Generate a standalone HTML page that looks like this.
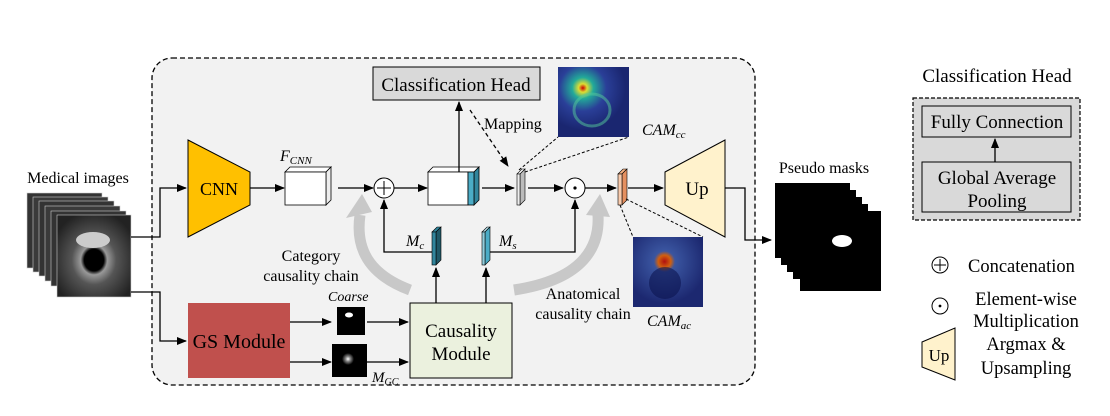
<!DOCTYPE html>
<html><head><meta charset="utf-8"><style>
html,body{margin:0;padding:0;background:#fff;}
svg{display:block;}
text{font-family:"Liberation Serif",serif;fill:#000;}
</style></head><body>
<svg width="1110" height="416" viewBox="0 0 1110 416" xmlns="http://www.w3.org/2000/svg">
<defs>
<marker id="ah" markerWidth="10" markerHeight="8" refX="9" refY="4" orient="auto" markerUnits="userSpaceOnUse"><path d="M0,0 L10,4 L0,8 z" fill="#000"/></marker>
<radialGradient id="hm1" cx="0.35" cy="0.3" r="0.6"><stop offset="0" stop-color="#c00"/><stop offset="0.1" stop-color="#dd3"/><stop offset="0.25" stop-color="#2a9"/><stop offset="0.55" stop-color="#2a3f98"/><stop offset="1" stop-color="#1a2670"/></radialGradient>
<radialGradient id="hm2" cx="0.45" cy="0.35" r="0.6"><stop offset="0" stop-color="#b01010"/><stop offset="0.15" stop-color="#d06010"/><stop offset="0.25" stop-color="#3a55a0"/><stop offset="1" stop-color="#1c2870"/></radialGradient>
<radialGradient id="mri" cx="0.5" cy="0.55" r="0.6"><stop offset="0" stop-color="#000"/><stop offset="0.22" stop-color="#000"/><stop offset="0.3" stop-color="#999"/><stop offset="0.5" stop-color="#555"/><stop offset="1" stop-color="#222"/></radialGradient>
<radialGradient id="glow" cx="0.5" cy="0.5" r="0.5"><stop offset="0" stop-color="#fff"/><stop offset="0.4" stop-color="#888"/><stop offset="1" stop-color="#000"/></radialGradient>
</defs>

<rect x="152" y="58" width="603" height="327" rx="20" fill="#f2f2f2" stroke="#000" stroke-width="1.3" stroke-dasharray="5,3"/>

<!-- medical images -->
<text x="78" y="183" font-size="16" text-anchor="middle">Medical images</text>
<g stroke="#ccc" stroke-width="0.6">
<rect x="27" y="193" width="75" height="75" fill="#333"/>
<rect x="33" y="197" width="75" height="75" fill="#3a3a3a"/>
<rect x="39" y="201" width="75" height="75" fill="#333"/>
<rect x="45" y="206" width="75" height="75" fill="#3a3a3a"/>
<rect x="51" y="211" width="75" height="75" fill="#333"/>
<rect x="57" y="215" width="74" height="82" fill="url(#mri)"/>
</g>
<ellipse cx="93" cy="240" rx="17" ry="8" fill="#ccc"/>
<polyline points="131,237 160,237 160,188 186,188" fill="none" stroke="#000" stroke-width="1.3" marker-end="url(#ah)"/>
<polyline points="131,292 160,292 160,341 186,341" fill="none" stroke="#000" stroke-width="1.3" marker-end="url(#ah)"/>

<polygon points="188,140 250,172 250,205 188,237" fill="#ffc000" stroke="#000" stroke-width="1"/>
<text x="219" y="195" font-size="18" text-anchor="middle">CNN</text>
<line x1="250" y1="188" x2="284" y2="188" stroke="#000" stroke-width="1.3" marker-end="url(#ah)"/>

<polygon points="285,172 290,167 331,167 326,172" fill="#fff" stroke="#000" stroke-width="0.8"/>
<polygon points="326,172 331,167 331,200 326,205" fill="#eee" stroke="#000" stroke-width="0.8"/>
<rect x="285" y="172" width="41" height="33" fill="#fff" stroke="#000" stroke-width="0.8"/>
<text x="280" y="161" font-size="16" font-style="italic">F<tspan font-size="11" dy="3">CNN</tspan></text>
<line x1="338" y1="188" x2="373" y2="188" stroke="#000" stroke-width="1.3" marker-end="url(#ah)"/>

<circle cx="384" cy="188" r="10" fill="#fff" stroke="#000" stroke-width="1"/>
<line x1="377" y1="188" x2="391" y2="188" stroke="#000"/><line x1="384" y1="181" x2="384" y2="195" stroke="#000"/>
<line x1="394" y1="188" x2="427" y2="188" stroke="#000" stroke-width="1.3" marker-end="url(#ah)"/>

<polygon points="428,172 433,167 479,167 474,172" fill="#fff" stroke="#000" stroke-width="0.8"/>
<polygon points="474,172 479,167 479,200 474,205" fill="#31859c" stroke="#000" stroke-width="0.8"/>
<rect x="428" y="172" width="40" height="33" fill="#fff" stroke="#000" stroke-width="0.8"/>
<rect x="468" y="172" width="6" height="33" fill="#4bacc6" stroke="#000" stroke-width="0.8"/>
<line x1="459" y1="172" x2="459" y2="102" stroke="#000" stroke-width="1.3" marker-end="url(#ah)"/>

<rect x="373" y="67" width="167" height="33" fill="#d9d9d9" stroke="#000" stroke-width="1"/>
<text x="456" y="91" font-size="19" text-anchor="middle">Classification Head</text>
<line x1="470" y1="110" x2="508" y2="166" stroke="#000" stroke-width="1.3" stroke-dasharray="4,3" marker-end="url(#ah)"/>
<text x="484" y="129" font-size="16">Mapping</text>

<line x1="482" y1="188" x2="514" y2="188" stroke="#000" stroke-width="1.3" marker-end="url(#ah)"/>
<polygon points="517,174 522,169 525,169 520,174" fill="#fff" stroke="#000" stroke-width="0.6"/>
<polygon points="520,174 525,169 525,200 520,205" fill="#bbb" stroke="#000" stroke-width="0.6"/>
<rect x="517" y="174" width="3" height="31" fill="#eee" stroke="#000" stroke-width="0.6"/>
<line x1="519" y1="170" x2="558" y2="137" stroke="#000" stroke-dasharray="3,2"/>
<line x1="525" y1="172" x2="629" y2="137" stroke="#000" stroke-dasharray="3,2"/>
<rect x="558" y="67" width="71" height="70" fill="url(#hm1)"/>
<ellipse cx="592" cy="110" rx="18" ry="16" fill="none" stroke="#5c9" stroke-width="3" opacity="0.5"/>
<text x="642" y="135" font-size="16" font-style="italic">CAM<tspan font-size="11" dy="3">cc</tspan></text>

<line x1="528" y1="188" x2="563" y2="188" stroke="#000" stroke-width="1.3" marker-end="url(#ah)"/>
<circle cx="575" cy="188" r="10" fill="#fff" stroke="#000" stroke-width="1"/>
<circle cx="575" cy="188" r="1.6" fill="#000"/>
<line x1="585" y1="188" x2="616" y2="188" stroke="#000" stroke-width="1.3" marker-end="url(#ah)"/>

<polygon points="618,174 623,169 627,169 622,174" fill="#f4b183" stroke="#000" stroke-width="0.6"/>
<polygon points="622,174 627,169 627,200 622,205" fill="#e59060" stroke="#000" stroke-width="0.6"/>
<rect x="618" y="174" width="4" height="31" fill="#f8cbad" stroke="#000" stroke-width="0.6"/>
<line x1="620" y1="205" x2="633" y2="237" stroke="#000" stroke-dasharray="3,2"/>
<line x1="626" y1="199" x2="703" y2="237" stroke="#000" stroke-dasharray="3,2"/>
<rect x="633" y="237" width="70" height="70" fill="url(#hm2)"/>
<ellipse cx="665" cy="283" rx="16" ry="16" fill="#0c1450" opacity="0.6"/>
<text x="647" y="326" font-size="16" font-style="italic">CAM<tspan font-size="11" dy="3">ac</tspan></text>

<line x1="628" y1="188" x2="663" y2="188" stroke="#000" stroke-width="1.3" marker-end="url(#ah)"/>
<polygon points="665,172 725,140 725,237 665,205" fill="#fff2cc" stroke="#000" stroke-width="1"/>
<text x="697" y="195" font-size="19" text-anchor="middle">Up</text>
<polyline points="725,188 745,188 745,240 771,240" fill="none" stroke="#000" stroke-width="1.3" marker-end="url(#ah)"/>

<!-- pseudo masks -->
<text x="824" y="173" font-size="16" text-anchor="middle">Pseudo masks</text>
<g fill="#000">
<rect x="775" y="183" width="75" height="75"/>
<rect x="781" y="190" width="75" height="75"/>
<rect x="787" y="197" width="75" height="75"/>
<rect x="793" y="204" width="75" height="75"/>
<rect x="800" y="211" width="81" height="80"/>
</g>
<ellipse cx="842" cy="241" rx="10" ry="6" fill="#fff"/>

<!-- Mc, Ms -->
<polygon points="432,232 437,227 441,227 436,232" fill="#31859c" stroke="#000" stroke-width="0.6"/>
<polygon points="436,232 441,227 441,260 436,265" fill="#205867" stroke="#000" stroke-width="0.6"/>
<rect x="432" y="232" width="4" height="33" fill="#31859c" stroke="#000" stroke-width="0.6"/>
<polygon points="482,232 487,227 490,227 485,232" fill="#b7dee8" stroke="#000" stroke-width="0.6"/>
<polygon points="485,232 490,227 490,260 485,265" fill="#4bacc6" stroke="#000" stroke-width="0.6"/>
<rect x="482" y="232" width="3" height="33" fill="#92cddc" stroke="#000" stroke-width="0.6"/>
<text x="406" y="246" font-size="16" font-style="italic">M<tspan font-size="11" dy="3">c</tspan></text>
<text x="499" y="246" font-size="16" font-style="italic">M<tspan font-size="11" dy="3">s</tspan></text>
<polyline points="432,252 384,252 384,200" fill="none" stroke="#000" stroke-width="1.3" marker-end="url(#ah)"/>
<polyline points="490,252 575,252 575,200" fill="none" stroke="#000" stroke-width="1.3" marker-end="url(#ah)"/>

<path d="M410,290 C370,275 355,250 360,215" fill="none" stroke="#c8c8c8" stroke-width="11"/>
<polygon points="346,218 372,212 362,194" fill="#c8c8c8"/>
<path d="M514,290 C580,280 600,250 598,215" fill="none" stroke="#c8c8c8" stroke-width="11"/>
<polygon points="586,215 610,217 600,194" fill="#c8c8c8"/>

<text x="311" y="261" font-size="16" text-anchor="middle">Category</text>
<text x="311" y="281" font-size="16" text-anchor="middle">causality chain</text>
<text x="583" y="299" font-size="16" text-anchor="middle">Anatomical</text>
<text x="583" y="319" font-size="16" text-anchor="middle">causality chain</text>

<rect x="410" y="303" width="102" height="75" fill="#ebf1de" stroke="#000" stroke-width="1"/>
<text x="461" y="337" font-size="19" text-anchor="middle">Causality</text>
<text x="461" y="360" font-size="19" text-anchor="middle">Module</text>
<line x1="436" y1="303" x2="436" y2="268" stroke="#000" stroke-width="1.3" marker-end="url(#ah)"/>
<line x1="486" y1="303" x2="486" y2="268" stroke="#000" stroke-width="1.3" marker-end="url(#ah)"/>

<rect x="188" y="303" width="102" height="75" fill="#c0504d"/>
<text x="239" y="348" font-size="20" text-anchor="middle">GS Module</text>
<line x1="290" y1="322" x2="331" y2="322" stroke="#000" stroke-width="1.3" marker-end="url(#ah)"/>
<line x1="290" y1="362" x2="331" y2="362" stroke="#000" stroke-width="1.3" marker-end="url(#ah)"/>
<rect x="337" y="307" width="28" height="28" fill="#000"/>
<ellipse cx="349" cy="315" rx="4" ry="2.5" fill="#fff"/>
<rect x="332" y="344" width="35" height="33" fill="#000"/>
<circle cx="348" cy="359" r="6" fill="url(#glow)"/>
<text x="328" y="301" font-size="14" font-style="italic">Coarse</text>
<text x="372" y="382" font-size="15" font-style="italic">M<tspan font-size="10" dy="3">GC</tspan></text>
<line x1="367" y1="322" x2="408" y2="322" stroke="#000" stroke-width="1.3" marker-end="url(#ah)"/>
<line x1="367" y1="362" x2="408" y2="362" stroke="#000" stroke-width="1.3" marker-end="url(#ah)"/>

<!-- legend -->
<text x="997" y="82" font-size="19" text-anchor="middle">Classification Head</text>
<rect x="913" y="98" width="167" height="122" fill="#d9d9d9" stroke="#000" stroke-width="1.2" stroke-dasharray="4,2"/>
<rect x="922" y="106" width="149" height="31" fill="#d9d9d9" stroke="#000" stroke-width="1"/>
<text x="997" y="128" font-size="19" text-anchor="middle">Fully Connection</text>
<rect x="922" y="162" width="149" height="50" fill="#d9d9d9" stroke="#000" stroke-width="1"/>
<text x="997" y="184" font-size="19" text-anchor="middle">Global Average</text>
<text x="997" y="207" font-size="19" text-anchor="middle">Pooling</text>
<line x1="995" y1="162" x2="995" y2="139" stroke="#000" stroke-width="1.3" marker-end="url(#ah)"/>

<circle cx="940" cy="265" r="8" fill="#fff" stroke="#000" stroke-width="1"/>
<line x1="934" y1="265" x2="946" y2="265" stroke="#000"/><line x1="940" y1="259" x2="940" y2="271" stroke="#000"/>
<text x="968" y="272" font-size="18.5">Concatenation</text>
<circle cx="940" cy="306" r="8" fill="#fff" stroke="#000" stroke-width="1"/>
<circle cx="940" cy="306" r="1.4" fill="#000"/>
<text x="1026" y="305" font-size="18.5" text-anchor="middle">Element-wise</text>
<text x="1026" y="327" font-size="18.5" text-anchor="middle">Multiplication</text>
<text x="1026" y="350" font-size="18.5" text-anchor="middle">Argmax &amp;</text>
<text x="1026" y="374" font-size="18.5" text-anchor="middle">Upsampling</text>
<polygon points="922,342 955,328 955,380 922,367" fill="#fff2cc" stroke="#000" stroke-width="1"/>
<text x="939" y="361" font-size="17" text-anchor="middle">Up</text>
</svg>
</body></html>
